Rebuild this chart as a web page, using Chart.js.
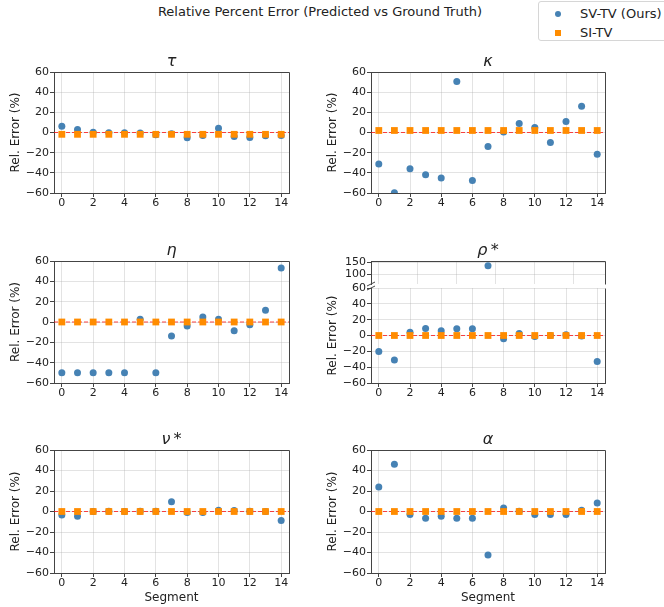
<!DOCTYPE html>
<html>
<head>
<meta charset="utf-8">
<script src="https://cdn.jsdelivr.net/npm/chart.js@4.4.1/dist/chart.umd.min.js"></script>
<style>
html,body{margin:0;padding:0;background:#fff;}
body{width:664px;height:607px;position:relative;overflow:hidden;font-family:'DejaVu Sans',sans-serif;color:#222;}
canvas{position:absolute;}
#suptitle{position:absolute;left:0;width:640px;top:3px;text-align:center;font-size:13px;line-height:18px;white-space:nowrap;}
#legend{position:absolute;left:538px;top:1px;width:140px;height:40px;border:1px solid #d6d6d6;border-radius:3px;background:#fff;box-sizing:border-box;}
.li{position:absolute;left:0;height:18px;font-size:13px;line-height:18px;white-space:nowrap;}
.mk{position:absolute;width:6px;height:6px;top:6px;left:16px;}
.lt{position:absolute;left:41px;top:0;}
</style>
</head>
<body>
<div id="suptitle">Relative Percent Error (Predicted vs Ground Truth)</div>
<div id="legend"></div>
<script>
// ---------------- data ----------------
const SEGMENTS = [0,1,2,3,4,5,6,7,8,9,10,11,12,13,14];
const X_TICKS = [0,2,4,6,8,10,12,14];
const Y_TICKS = [-60,-40,-20,0,20,40,60];
const RHO_UPPER_X_TICKS = [0,2.5,5,7.5,10,12.5];
const RHO_UPPER_Y_TICKS = [100,150];
const SERIES_NAMES = ['SV-TV (Ours)', 'SI-TV'];
const SUPTITLE = 'Relative Percent Error (Predicted vs Ground Truth)';
const Y_LABEL = 'Rel. Error (%)';
const X_LABEL = 'Segment';
const PARAM_TITLES = ['τ', 'κ', 'η', 'ρ\u2009*', 'ν\u2009*', 'α'];

const TAU_SV   = [6.3, 3, 0.3, -0.3, -0.3, -0.6, -2.3, -1.3, -5.3, -3, 4.3, -4, -5, -3.3, -3];
const TAU_SI   = [-1.8, -1.8, -1.8, -1.8, -1.8, -1.8, -1.8, -1.8, -1.8, -1.8, -1.8, -1.8, -1.8, -1.8, -1.8];
const KAPPA_SV = [-31.3, -59.7, -36, -42, -45, 50.5, -47.5, -14, 0.5, 9, 5, -10, 11, 26, -21.5];
const KAPPA_SI = [2, 2, 2, 2, 2, 2, 2, 2, 2, 2, 2, 2, 2, 2, 2];
const ETA_SV   = [-50, -50, -50, -50, -50, 2.6, -50, -13.8, -4, 5, 2.6, -8.5, -2.6, 11.5, 53];
const ETA_SI   = [0, 0, 0, 0, 0, 0, 0, 0, 0, 0, 0, 0, 0, 0, 0];
const RHO_SV   = [-20.2, -31, 4.2, 8.8, 5.9, 8.4, 8.4, 135, -4.2, 2.5, -1.3, 0, 1, -0.5, -32.8];
const RHO_SI   = [0, 0, 0, 0, 0, 0, 0, 0, 0, 0, 0, 0, 0, 0, 0];
const NU_SV    = [-3.3, -4.6, 0, 0.3, 0, 0.3, 0.3, 9.5, -1, -1, 1.3, 1, 0.3, 0, -8.9];
const NU_SI    = [0, 0, 0, 0, 0, 0, 0, 0, 0, 0, 0, 0, 0, 0, 0];
const ALPHA_SV = [24, 46, -3, -6.6, -4.6, -6.6, -6.6, -42.5, 3.3, 0.3, -3, -3, -3, 1.3, 8.3];
const ALPHA_SI = [0, 0, 0, 0, 0, 0, 0, 0, 0, 0, 0, 0, 0, 0, 0];

const X_MIN = -0.5, X_MAX = 14.5;
const Y_MIN = -60, Y_MAX = 60;
const RHO_UPPER_MIN = 60, RHO_UPPER_MAX = 155;
const REF_VALUE = 0;

// ---------------- style ----------------
const C_SV = '#4682B4', C_SI = '#FF8C00';
const SPINE = '#444', GRID = 'rgba(176,176,176,0.35)', TXT = '#222';
const FONT = "'DejaVu Sans', sans-serif";
const YW = 54, PR = 14, TH = 34;
const COLS = [[54, 289], [371, 605]];
const ROWS = [[72, 193], [261, 383], [450, 573]];

Chart.defaults.font.family = FONT;
Chart.defaults.color = TXT;

const al = v => Math.round(v - 0.5) + 0.5;
const framePlugin = {
  id: 'frame',
  afterDraw(chart, args, o) {
    const a = chart.chartArea, ctx = chart.ctx;
    ctx.save();
    ctx.strokeStyle = SPINE; ctx.lineWidth = 1;
    ctx.beginPath();
    if (o.top) { ctx.moveTo(al(a.left), al(a.top)); ctx.lineTo(al(a.right), al(a.top)); }
    if (o.right) { ctx.moveTo(al(a.right), al(a.top)); ctx.lineTo(al(a.right), al(a.bottom)); }
    if (o.breakBottom) { ctx.moveTo(a.left - 4, a.bottom + 2); ctx.lineTo(a.left + 4, a.bottom - 2); }
    if (o.breakTop) { ctx.moveTo(a.left - 4, a.top + 2); ctx.lineTo(a.left + 4, a.top - 2); }
    ctx.stroke();
    ctx.restore();
  }
};

const fmt = v => (v < 0 ? '\u2212' + Math.abs(v) : String(v));
const pts = arr => SEGMENTS.map((s, i) => ({ x: s, y: arr[i] }));

function makePanel(p) {
  const [l, r] = p.col, [t, b] = p.row;
  const th = p.th, bh = p.bh;
  const cv = document.createElement('canvas');
  cv.width = r - l + YW + PR;
  cv.height = b - t + th + bh;
  cv.style.left = (l - YW) + 'px';
  cv.style.top = (t - th) + 'px';
  document.body.appendChild(cv);
  new Chart(cv, {
    type: 'scatter',
    data: {
      datasets: [
        { type: 'line', label: 'ref', data: [{ x: X_MIN, y: REF_VALUE }, { x: X_MAX, y: REF_VALUE }],
          borderColor: 'rgba(255,0,0,0.72)', borderWidth: 1, borderDash: [4, 2], pointRadius: 0, order: 3 },
        { label: SERIES_NAMES[0], data: pts(p.sv), backgroundColor: C_SV, borderWidth: 0,
          pointRadius: 3.5, pointStyle: 'circle', order: 2 },
        { label: SERIES_NAMES[1], data: pts(p.si), backgroundColor: C_SI, borderWidth: 0,
          pointRadius: 4.8, pointStyle: 'rect', order: 1 }
      ]
    },
    options: {
      responsive: false, animation: false, devicePixelRatio: 1,
      layout: { padding: { left: 0, right: PR, top: p.title ? 0 : th, bottom: 0 } },
      plugins: {
        legend: { display: false }, tooltip: { enabled: false },
        title: {
          display: !!p.title, text: p.title || '', fullSize: false, color: TXT,
          font: { family: FONT, size: 16, style: 'italic', weight: 'normal', lineHeight: 1.2 },
          padding: { top: th - 20.2, bottom: 1 }
        },
        frame: { top: p.frameTop !== false, right: true, breakBottom: !!p.breakBottom, breakTop: !!p.breakTop }
      },
      scales: {
        x: {
          type: 'linear', min: X_MIN, max: X_MAX,
          afterBuildTicks: s => { s.ticks = (p.xTicks || X_TICKS).map(v => ({ value: v })); },
          afterFit: s => { s.height = bh; },
          ticks: { display: !p.hideXLabels, font: { size: 11 }, color: TXT, padding: 0, maxRotation: 0, autoSkip: false, callback: fmt },
          grid: { color: GRID, lineWidth: 1, drawTicks: !p.hideXLabels, tickLength: 4, tickColor: SPINE, tickWidth: 1 },
          border: { display: !p.hideXBorder, color: SPINE, width: 1 },
          title: { display: !!p.xTitle, text: X_LABEL, color: TXT, font: { size: 12, lineHeight: 1.2 }, padding: { top: 0, bottom: 2.3 } }
        },
        y: {
          type: 'linear', min: p.yMin, max: p.yMax,
          afterBuildTicks: s => { s.ticks = p.yTicks.map(v => ({ value: v })); },
          afterFit: s => { s.width = YW; },
          ticks: { font: { size: 11 }, color: TXT, padding: 1, autoSkip: false, callback: fmt },
          grid: { color: GRID, lineWidth: 1, drawTicks: true, tickLength: 4, tickColor: SPINE, tickWidth: 1 },
          border: { display: true, color: SPINE, width: 1 },
          title: { display: p.yTitle !== false, text: Y_LABEL, color: TXT, font: { size: 12, lineHeight: 1.2 }, padding: { top: 9, bottom: 0 } }
        }
      }
    },
    plugins: [framePlugin]
  });
}

const std = { th: TH, bh: 22, yMin: Y_MIN, yMax: Y_MAX, yTicks: Y_TICKS };
makePanel({ ...std, col: COLS[0], row: ROWS[0], title: PARAM_TITLES[0], sv: TAU_SV, si: TAU_SI });
makePanel({ ...std, col: COLS[1], row: ROWS[0], title: PARAM_TITLES[1], sv: KAPPA_SV, si: KAPPA_SI });
makePanel({ ...std, col: COLS[0], row: ROWS[1], title: PARAM_TITLES[2], sv: ETA_SV, si: ETA_SI });
// rho* broken axis: upper part
makePanel({ th: TH, bh: 8, col: COLS[1], row: [ROWS[1][0], 284], title: PARAM_TITLES[3], sv: RHO_SV, si: RHO_SI,
  yMin: RHO_UPPER_MIN, yMax: RHO_UPPER_MAX, yTicks: RHO_UPPER_Y_TICKS, xTicks: RHO_UPPER_X_TICKS,
  hideXLabels: true, hideXBorder: true, yTitle: false, breakBottom: true });
// rho* broken axis: lower part
makePanel({ ...std, th: 8, col: COLS[1], row: [288, ROWS[1][1]], title: null, sv: RHO_SV, si: RHO_SI,
  frameTop: false, breakTop: true });
makePanel({ ...std, bh: 34, col: COLS[0], row: ROWS[2], title: PARAM_TITLES[4], sv: NU_SV, si: NU_SI, xTitle: true });
makePanel({ ...std, bh: 34, col: COLS[1], row: ROWS[2], title: PARAM_TITLES[5], sv: ALPHA_SV, si: ALPHA_SI, xTitle: true });

// legend (HTML, built from series names)
const lg = document.getElementById('legend');
[[C_SV, '50%'], [C_SI, '0']].forEach(([c, rad], i) => {
  const li = document.createElement('div');
  li.className = 'li';
  li.style.top = (3 + i * 19) + 'px';
  const mk = document.createElement('span');
  mk.className = 'mk'; mk.style.background = c; mk.style.borderRadius = rad;
  const tx = document.createElement('span');
  tx.className = 'lt'; tx.textContent = SERIES_NAMES[i];
  li.appendChild(mk); li.appendChild(tx);
  lg.appendChild(li);
});
document.getElementById('suptitle').textContent = SUPTITLE;
</script>
</body>
</html>
